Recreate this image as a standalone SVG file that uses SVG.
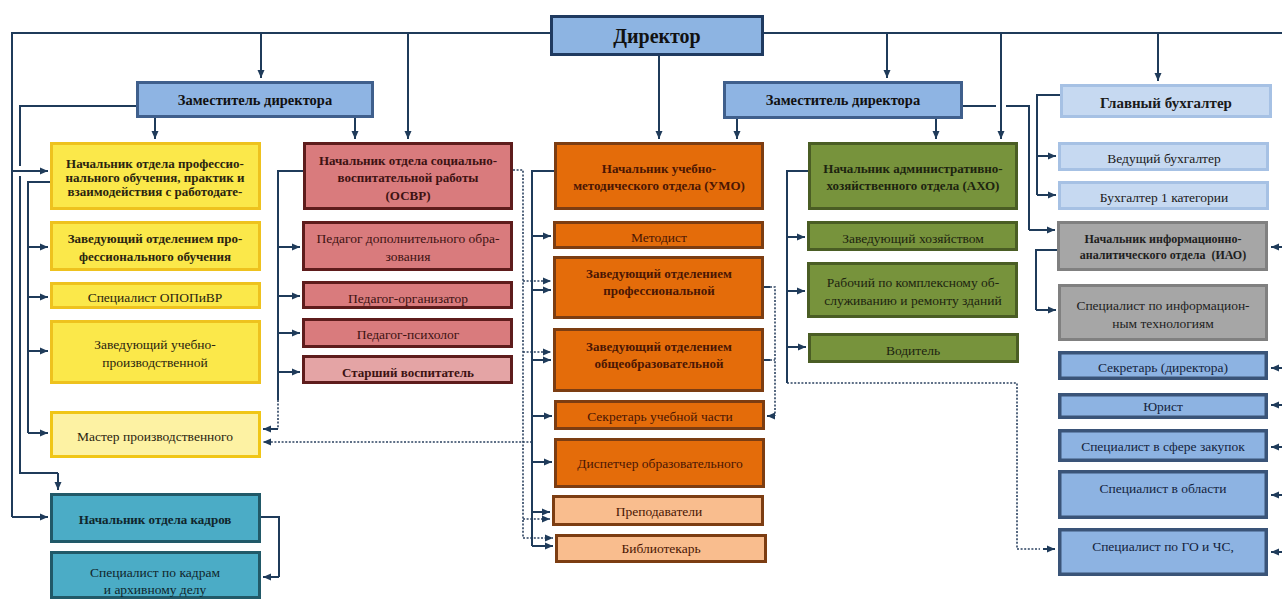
<svg xmlns="http://www.w3.org/2000/svg" width="1282" height="601" viewBox="0 0 1282 601">
<defs>
<marker id="ah" markerUnits="userSpaceOnUse" markerWidth="9" markerHeight="8" refX="8" refY="4" orient="auto"><path d="M0,0.5 L8,4 L0,7.5 z" fill="#1f3b5a"/></marker>
<style>
text{font-family:"Liberation Serif","Times New Roman",serif;font-size:13.5px;text-anchor:middle;dominant-baseline:central}
.b{font-weight:bold;font-size:13px}
.c{stroke:#1f3b5a;stroke-width:2;fill:none}
.ca{stroke:#1f3b5a;stroke-width:2;fill:none;marker-end:url(#ah)}
.d{stroke:#2b4260;stroke-width:1.6;stroke-dasharray:2 1.6;fill:none}
.da{stroke:#2b4260;stroke-width:1.6;stroke-dasharray:2 1.6;fill:none;marker-end:url(#ah)}
.dir rect{fill:#8db4e2;stroke:#1f3a60;stroke-width:3}
.zam rect{fill:#8eb4e3;stroke:#3f5f8c;stroke-width:3}
.zam text,.dir text{fill:#111}
.y rect{fill:#fbe84a;stroke:#eec21e;stroke-width:3}
.yl rect{fill:#fdf2a3;stroke:#f0c616;stroke-width:3}
.y text,.yl text{fill:#2a2410}
.r rect{fill:#d97b7d;stroke:#5e1c1c;stroke-width:3}
.rl rect{fill:#e4a4a5;stroke:#5e1c1c;stroke-width:3}
.r text,.rl text{fill:#3d1212}
.o rect{fill:#e46c0a;stroke:#7c3d12;stroke-width:3}
.ol rect{fill:#f9bd8e;stroke:#7c3d12;stroke-width:3}
.o text,.ol text{fill:#4a1604}
.g rect{fill:#77933c;stroke:#4a5d24;stroke-width:3}
.g text{fill:#1d2410}
.lb rect{fill:#c6d9f1;stroke:#a6c1e4;stroke-width:3}
.lb text{fill:#1a1a1a}
.gr rect{fill:#a6a6a6;stroke:#808080;stroke-width:3}
.gr text{fill:#1e1e1e}
.bl rect{fill:#8db3e2;stroke:#3a5478;stroke-width:3.5}
.bl text{fill:#14233d}
.k rect{fill:#4bacc6;stroke:#215968;stroke-width:3}
.k text{fill:#10262c}
</style>
</defs>

<g id="connectors">
<path class="c" d="M550,33 H12 V517"/>
<path class="c" d="M764,33 H1282"/>
<path class="ca" d="M12,171 H48"/>
<path class="ca" d="M12,517 H48"/>
<path class="ca" d="M261,33 V78"/>
<path class="ca" d="M408,33 V139"/>
<path class="ca" d="M659,56 V139"/>
<path class="ca" d="M887,33 V78"/>
<path class="ca" d="M1001,33 V139"/>
<path class="ca" d="M1158,33 V81"/>
<path class="c" d="M136,106 H20 V166"/>
<path class="c" d="M20,176 V473 H58"/>
<path class="ca" d="M58,473 V490"/>
<path class="ca" d="M155,118 V139"/>
<path class="ca" d="M355,118 V139"/>
<path class="c" d="M50,182 H28 V433"/>
<path class="ca" d="M28,247 H48"/>
<path class="ca" d="M28,297 H48"/>
<path class="ca" d="M28,351 H48"/>
<path class="ca" d="M28,433 H48"/>
<path class="c" d="M261,517 H279 V577"/>
<path class="ca" d="M279,577 H263"/>
<path class="c" d="M303,171 H278 V400"/>
<path class="ca" d="M278,247 H300"/>
<path class="ca" d="M278,296 H300"/>
<path class="ca" d="M278,333 H300"/>
<path class="ca" d="M278,372 H300"/>
<path class="d" d="M278,400 V429"/>
<path class="ca" d="M278,429 H263"/>
<path class="d" d="M513,170 H523 V538"/>
<path class="da" d="M523,281 H551"/>
<path class="da" d="M523,352 H551"/>
<path class="da" d="M523,519 H550"/>
<path class="da" d="M523,538 H553"/>
<path class="da" d="M532,442 H263"/>
<path class="c" d="M554,171 H532 V546"/>
<path class="ca" d="M532,236 H551"/>
<path class="ca" d="M532,290 H551"/>
<path class="ca" d="M532,360 H551"/>
<path class="ca" d="M532,416 H552"/>
<path class="ca" d="M532,462 H552"/>
<path class="ca" d="M532,512 H550"/>
<path class="ca" d="M532,546 H553"/>
<path class="c" d="M764,287 H770"/>
<path class="c" d="M764,360 H770"/>
<path class="d" d="M770,287 H775 V416"/>
<path class="d" d="M770,360 H775"/>
<path class="ca" d="M775,416 H767"/>
<path class="ca" d="M737,119 V139"/>
<path class="ca" d="M936,119 V139"/>
<path class="c" d="M963,106 H996"/>
<path class="c" d="M1006,106 H1029 V230"/>
<path class="ca" d="M1029,230 H1055"/>
<path class="c" d="M808,171 H787 V383"/>
<path class="ca" d="M787,237 H805"/>
<path class="ca" d="M787,291 H805"/>
<path class="ca" d="M787,347 H806"/>
<path class="d" d="M787,383 H1017 V549 H1040"/>
<path class="ca" d="M1043,549 H1055"/>
<path class="c" d="M1060,95 H1037 V195"/>
<path class="ca" d="M1037,156 H1056"/>
<path class="ca" d="M1037,195 H1056"/>
<path class="c" d="M1057,250 H1036 V310"/>
<path class="ca" d="M1036,310 H1056"/>
<path class="ca" d="M1282,247 H1271"/>
<path class="ca" d="M1282,368 H1271"/>
<path class="ca" d="M1282,405 H1271"/>
<path class="ca" d="M1282,447 H1271"/>
<path class="ca" d="M1282,495 H1271"/>
<path class="ca" d="M1282,552 H1271"/>
</g>

<g id="director" class="dir"><rect x="551.5" y="16.5" width="211" height="38"/><text x="657" y="36" style="font-weight:bold;font-size:20px">Директор</text></g>
<g id="zam-left" class="zam"><rect x="137.5" y="82.5" width="235" height="34"/><text x="255" y="100" style="font-weight:bold;font-size:14.5px">Заместитель директора</text></g>
<g id="zam-right" class="zam"><rect x="724.5" y="82.5" width="237" height="35"/><text x="843" y="100" style="font-weight:bold;font-size:14.5px">Заместитель директора</text></g>
<g id="glavbuh" class="lb"><rect x="1061.5" y="85.5" width="209" height="31"/><text x="1166" y="103" style="font-weight:bold;font-size:15px">Главный бухгалтер</text></g>

<g id="y1" class="y"><rect x="51.5" y="143.5" width="208" height="65"/><text class="b" x="155" y="163">Начальник отдела профессио-</text><text class="b" x="155" y="177">нального обучения, практик и</text><text class="b" x="155" y="191">взаимодействия с работодате-</text></g>
<g id="y2" class="y"><rect x="51.5" y="222.5" width="208" height="47"/><text class="b" x="155" y="238">Заведующий отделением про-</text><text class="b" x="155" y="256">фессионального обучения</text></g>
<g id="y3" class="y"><rect x="51.5" y="283.5" width="208" height="24"/><text x="155" y="297">Специалист ОПОПиВР</text></g>
<g id="y4" class="y"><rect x="51.5" y="321.5" width="208" height="61"/><text x="155" y="344">Заведующий учебно-</text><text x="155" y="362">производственной</text></g>
<g id="y5" class="yl"><rect x="51.5" y="412.5" width="208" height="44"/><text x="155" y="436">Мастер производственного</text></g>
<g id="k1" class="k"><rect x="51.5" y="494.5" width="208" height="47"/><text class="b" x="155" y="519">Начальник отдела кадров</text></g>
<g id="k2" class="k"><rect x="51.5" y="552.5" width="208" height="45"/><text x="155" y="572">Специалист по кадрам</text><text x="155" y="589">и архивному делу</text></g>

<g id="r1" class="r"><rect x="304.5" y="143.5" width="207" height="65"/><text class="b" x="408" y="160">Начальник отдела социально-</text><text class="b" x="408" y="177">воспитательной работы</text><text class="b" x="408" y="195">(ОСВР)</text></g>
<g id="r2" class="r"><rect x="303.5" y="222.5" width="208" height="47"/><text x="408" y="238">Педагог дополнительного обра-</text><text x="408" y="256">зования</text></g>
<g id="r3" class="r"><rect x="303.5" y="282.5" width="208" height="25"/><text x="408" y="298">Педагог-организатор</text></g>
<g id="r4" class="r"><rect x="303.5" y="319.5" width="208" height="27"/><text x="408" y="334">Педагог-психолог</text></g>
<g id="r5" class="rl"><rect x="303.5" y="356.5" width="208" height="26"/><text class="b" x="408" y="372">Старший воспитатель</text></g>

<g id="o1" class="o"><rect x="555.5" y="143.5" width="207" height="65"/><text class="b" x="659" y="168">Начальник учебно-</text><text class="b" x="659" y="185">методического отдела (УМО)</text></g>
<g id="o2" class="o"><rect x="554.5" y="222.5" width="208" height="25"/><text x="659" y="237">Методист</text></g>
<g id="o3" class="o"><rect x="554.5" y="257.5" width="208" height="60"/><text class="b" x="659" y="273">Заведующий отделением</text><text class="b" x="659" y="290">профессиональной</text></g>
<g id="o4" class="o"><rect x="554.5" y="329.5" width="208" height="61"/><text class="b" x="659" y="346">Заведующий отделением</text><text class="b" x="659" y="363">общеобразовательной</text></g>
<g id="o5" class="o"><rect x="555.5" y="401.5" width="208" height="27"/><text x="660" y="416">Секретарь учебной части</text></g>
<g id="o6" class="o"><rect x="555.5" y="439.5" width="208" height="47"/><text x="660" y="463">Диспетчер образовательного</text></g>
<g id="o7" class="ol"><rect x="553.5" y="496.5" width="209" height="28"/><text x="659" y="511">Преподаватели</text></g>
<g id="o8" class="ol"><rect x="556.5" y="535.5" width="209" height="26"/><text x="661" y="548">Библиотекарь</text></g>

<g id="g1" class="g"><rect x="809.5" y="143.5" width="207" height="65"/><text class="b" x="913" y="168">Начальник административно-</text><text class="b" x="913" y="185">хозяйственного отдела (АХО)</text></g>
<g id="g2" class="g"><rect x="808.5" y="222.5" width="208" height="27"/><text x="913" y="238">Заведующий хозяйством</text></g>
<g id="g3" class="g"><rect x="808.5" y="263.5" width="208" height="53"/><text x="913" y="282">Рабочий по комплексному об-</text><text x="913" y="300">служиванию и ремонту зданий</text></g>
<g id="g4" class="g"><rect x="809.5" y="334.5" width="208" height="27"/><text x="913" y="350">Водитель</text></g>

<g id="lb1" class="lb"><rect x="1059.5" y="143.5" width="208" height="26"/><text x="1164" y="158">Ведущий бухгалтер</text></g>
<g id="lb2" class="lb"><rect x="1059.5" y="182.5" width="208" height="26"/><text x="1164" y="197">Бухгалтер 1 категории</text></g>
<g id="i1" class="gr"><rect x="1058.5" y="222.5" width="208" height="47"/><text class="b" x="1163" y="239" style="font-size:12px">Начальник информационно-</text><text class="b" x="1163" y="255" style="font-size:12px;white-space:pre">аналитического отдела  (ИАО)</text></g>
<g id="i2" class="gr"><rect x="1059.5" y="285.5" width="207" height="54"/><text x="1163" y="305">Специалист по информацион-</text><text x="1163" y="323">ным технологиям</text></g>
<g id="s1" class="bl"><rect x="1059.75" y="352.75" width="206.5" height="25.5"/><text x="1163" y="367">Секретарь (директора)</text></g>
<g id="s2" class="bl"><rect x="1059.75" y="394.75" width="206.5" height="22.5"/><text x="1163" y="406">Юрист</text></g>
<g id="s3" class="bl"><rect x="1059.75" y="430.75" width="206.5" height="29.5"/><text x="1163" y="446">Специалист в сфере закупок</text></g>
<g id="s4" class="bl"><rect x="1059.75" y="471.75" width="206.5" height="45.5"/><text x="1163" y="488">Специалист в области</text></g>
<g id="s5" class="bl"><rect x="1059.75" y="529.75" width="206.5" height="44.5"/><text x="1163" y="546">Специалист по ГО и ЧС,</text></g>
</svg>
